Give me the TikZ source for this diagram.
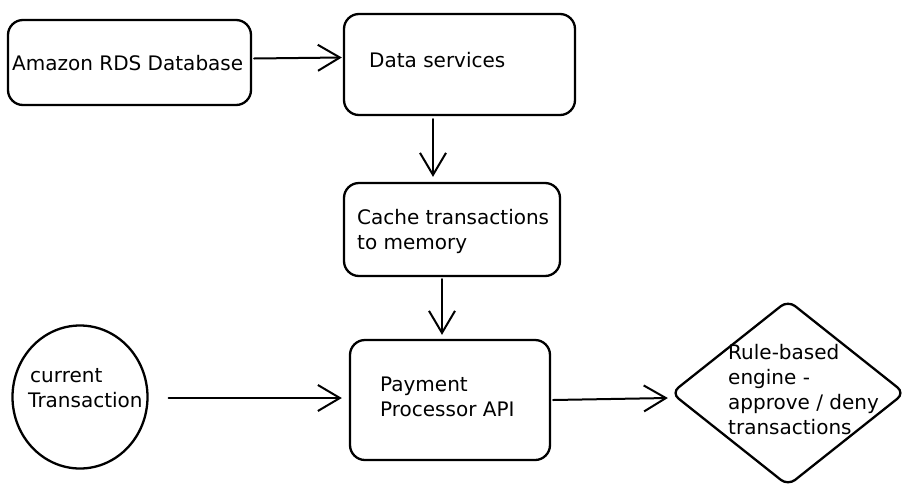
\documentclass[tikz,border=0pt]{standalone}
\usepackage{fontspec}
\setmainfont{DejaVu Sans}
\usetikzlibrary{shapes.geometric,arrows.meta}
\begin{document}
\begin{tikzpicture}[x=1pt,y=-1pt,
  box/.style={draw=black,line width=2.3pt,rounded corners=15pt,inner sep=0pt},
  txt/.style={inner sep=0pt,anchor=west,align=left,font=\fontsize{20}{25}\selectfont},
  arr/.style={draw=black,line width=2pt,line cap=round,
    -{Straight Barb[length=22pt,width=26pt,line width=2pt]}}]
  \useasboundingbox (0,0) rectangle (911,488);

  % boxes
  \node[box,minimum width=243pt,minimum height=85pt] (rds) at (129.5,62.5) {};
  \node[box,minimum width=231pt,minimum height=101pt] (data) at (459.5,64.5) {};
  \node[box,minimum width=216pt,minimum height=93pt] (cache) at (452,229.5) {};
  \node[box,minimum width=200pt,minimum height=120pt] (pay) at (450,400) {};
  \node[draw=black,line width=2.3pt,ellipse,inner sep=0pt,
        minimum width=135pt,minimum height=143pt] (cur) at (80,397) {};
  \node[draw=black,line width=2.3pt,diamond,inner sep=0pt,rounded corners=9pt,
        minimum width=234pt,minimum height=186pt] (rule) at (788,393) {};

  % labels
  \node[txt] (rdst) at (12,63) {Amazon RDS Database};
  \node[txt] (datat) at (369,60) {Data services};
  \node[txt] (cachet) at (357,231) {Cache transactions\\to memory};
  \node[txt] (curt) at (28,388) {\hspace*{2pt}current\\Transaction};
  \node[txt] (payt) at (380,397) {Payment\\Processor API};
  \node[txt] (rulet) at (728,390) {Rule-based\\engine -\\approve / deny\\transactions};

  % connectors
  \draw[arr] ([xshift=2pt,yshift=4pt]rds.east) -- ([xshift=-1pt,yshift=7pt]data.west);
  \draw[arr] ([xshift=-26.5pt,yshift=-3pt]data.south) -- ([xshift=-19pt,yshift=5pt]cache.north);
  \draw[arr] ([xshift=-10pt,yshift=-2pt]cache.south) -- ([xshift=-8pt,yshift=4pt]pay.north);
  \draw[arr] ([xshift=20pt,yshift=-1pt]cur.east) -- ([xshift=-7pt,yshift=2pt]pay.west);
  \draw[arr] ([xshift=2pt]pay.east) -- ([xshift=-2pt,yshift=-5pt]rule.west);
\end{tikzpicture}
\end{document}
